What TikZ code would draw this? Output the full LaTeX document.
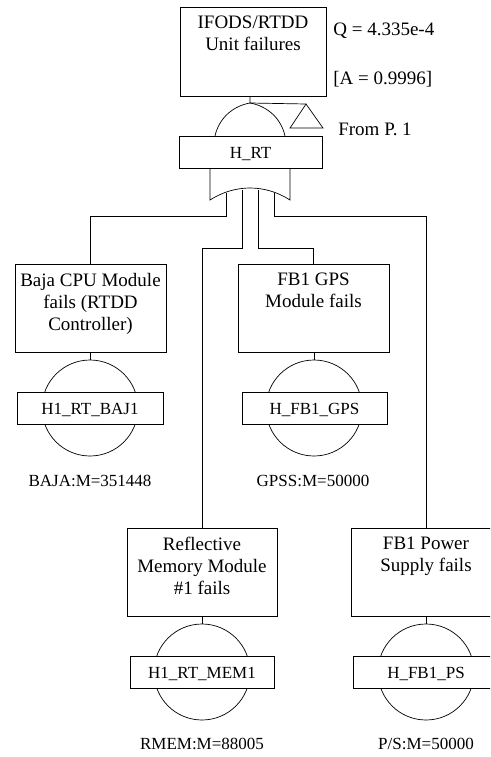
\documentclass[tikz,border=0pt]{standalone}
\usepackage{fontspec}
\setmainfont{Liberation Serif}
\usetikzlibrary{
  calc,
  positioning
}

\begin{document}
\begin{tikzpicture}[x=1pt,y=-1pt,line width=0.7pt,
  event/.style={rectangle,draw,minimum height=88pt,inner sep=0pt},
  evtext/.style={font=\fontsize{19}{22}\selectfont,align=center,anchor=north,inner sep=0pt,yshift=-9pt},
  tag/.style={rectangle,draw,fill=white,minimum height=32pt,inner sep=0pt,font=\fontsize{17}{20}\selectfont,text height=12pt,text depth=0pt},
  basic/.style={circle,draw,minimum size=96pt,inner sep=0pt},
  note/.style={font=\fontsize{17}{20}\selectfont,inner sep=0pt},
  side/.style={font=\fontsize{19}{22}\selectfont,inner sep=0pt,anchor=west}]
\useasboundingbox (0,0) rectangle (490,757);
\clip (0,0) rectangle (490,757);
% top event and gate
\node[event,minimum width=146pt,minimum height=89pt,label={[evtext]north:{IFODS/RTDD\\Unit failures}}] (T) at (253,51.5) {};
\coordinate (Ga) at (250,103);
\coordinate (Tr) at (306,104);
\draw (215,136) .. controls (219,118) and (233,106) .. (Ga) .. controls (267,106) and (281,118) .. (285,136);
\draw (T.south -| Ga) -- (Ga) -- (Tr);
\draw (Tr) -- (290,128) -- (323,128) -- cycle;
\draw (210,168) -- (210,200) .. controls (235,184) and (265,184) .. (290,200) -- (290,168);
\node[tag,minimum width=143pt] (G) at (250.5,152) {H\_RT};
\node[side] (Q) at (333,31) {Q = 4.335e-4};
\node[side] (A) at (333,79) {[A = 0.9996]};
\node[side] (FP) at (338,129) {From P. 1};
% gate outputs
\coordinate (o1) at (226,193);
\coordinate (o2) at (242,189.5);
\coordinate (o3) at (258,189.5);
\coordinate (o4) at (274,193);
% intermediate events
\node[event,minimum width=151pt,label={[evtext]north:{Baja CPU Module\\fails (RTDD\\Controller)}}] (B) at (90.5,308) {};
\node[event,minimum width=151pt,label={[evtext]north:{FB1 GPS\\Module fails}}] (F) at (313.5,308) {};
\node[event,minimum width=150pt,label={[evtext]north:{Reflective\\Memory Module\\\#1 fails}}] (R) at (202,572) {};
\node[event,minimum width=150pt,label={[evtext]north:{FB1 Power\\Supply fails}}] (P) at (426,572) {};
\draw (o1) -- (o1 |- 0,216) -| (B.north);
\draw (o2) -- (o2 |- 0,248) -| (R.north);
\draw (o3) -- (o3 |- 0,248) -| (F.north);
\draw (o4) -- (o4 |- 0,216) -| (P.north);
% basic events
\node[basic] (Bc) at (90,408) {};
\node[tag,minimum width=146pt] (Bt) at (90,408) {H1\_RT\_BAJ1};
\node[note] (Bn) at (90,481) {BAJA:M=351448};
\node[basic] (Fc) at (314,408) {};
\node[tag,minimum width=145pt] (Ft) at (314.5,408) {H\_FB1\_GPS};
\node[note] (Fn) at (313,481) {GPSS:M=50000};
\node[basic] (Rc) at (202,672) {};
\node[tag,minimum width=144pt] (Rt) at (202,672) {H1\_RT\_MEM1};
\node[note] (Rn) at (202,744) {RMEM:M=88005};
\node[basic] (Pc) at (426,672) {};
\node[tag,minimum width=146pt] (Pt) at (426,672.5) {H\_FB1\_PS};
\node[note] (Pn) at (426,744) {P/S:M=50000};
\draw (Bc.north |- B.south) -- (Bc.north);
\draw (Fc.north |- F.south) -- (Fc.north);
\draw (Rc.north |- R.south) -- (Rc.north);
\draw (Pc.north |- P.south) -- (Pc.north);
\end{tikzpicture}
\end{document}
